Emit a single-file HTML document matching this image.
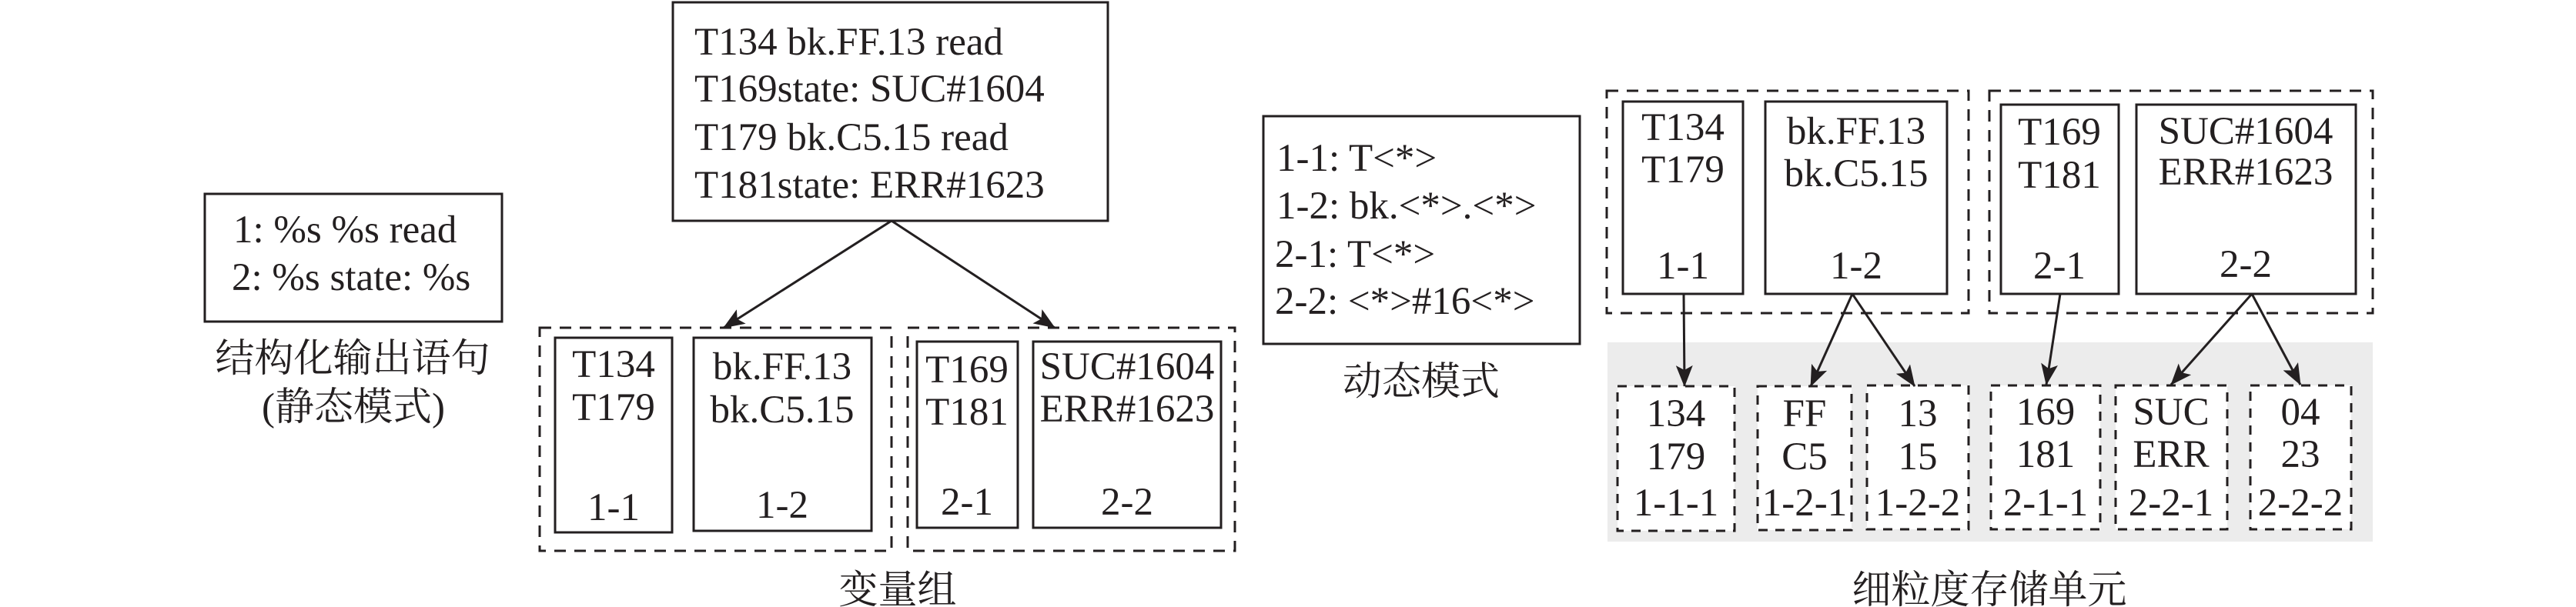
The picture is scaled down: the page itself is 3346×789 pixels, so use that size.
<!DOCTYPE html>
<html>
<head>
<meta charset="utf-8">
<style>
  html,body{margin:0;padding:0;background:#fff;}
  body{width:3346px;height:789px;overflow:hidden;}
  svg{display:block;}
  text{font-family:"Liberation Serif","Noto Serif CJK SC",serif;fill:#231f20;font-size:51px;}
  .cjk{font-family:"Liberation Serif","Noto Serif CJK SC","Noto Sans CJK SC",serif;font-size:51px;}
  .box{fill:#fff;stroke:#231f20;stroke-width:3;}
  .grp{fill:none;stroke:#231f20;stroke-width:3;stroke-dasharray:15 11;}
  .cell{fill:#fff;stroke:#231f20;stroke-width:3;stroke-dasharray:12 10;}
  .arr{stroke:#231f20;stroke-width:3;fill:none;marker-end:url(#ah);}
</style>
</head>
<body>
<svg width="3346" height="789" viewBox="0 0 3346 789" xmlns="http://www.w3.org/2000/svg">
  <defs>
    <marker id="ah" markerUnits="userSpaceOnUse" viewBox="0 0 28 22" markerWidth="28" markerHeight="22" refX="27" refY="11" orient="auto">
      <path d="M28,11 L0,0 L6,11 L0,22 Z" fill="#231f20"/>
    </marker>
  </defs>

  <!-- Left: static template box -->
  <rect class="box" x="266" y="252" width="386" height="166"/>
  <text x="303" y="315">1: %s %s read</text>
  <text x="301" y="377">2: %s state: %s</text>
  <text class="cjk" x="458" y="483" text-anchor="middle">结构化输出语句</text>
  <text class="cjk" x="459" y="546" text-anchor="middle">(静态模式)</text>

  <!-- Top log box -->
  <rect class="box" x="874" y="3" width="565" height="284"/>
  <text x="902" y="71">T134 bk.FF.13 read</text>
  <text x="902" y="132">T169state: SUC#1604</text>
  <text x="902" y="195">T179 bk.C5.15 read</text>
  <text x="902" y="257">T181state: ERR#1623</text>

  <!-- arrows from log box -->
  <line class="arr" x1="1158" y1="287" x2="940" y2="426"/>
  <line class="arr" x1="1158" y1="287" x2="1370" y2="426"/>

  <!-- Variable groups -->
  <rect class="grp" x="701" y="426" width="457" height="290"/>
  <rect class="grp" x="1179" y="426" width="425" height="290"/>

  <rect class="box" x="721" y="439" width="152" height="253"/>
  <text x="797" y="490" text-anchor="middle">T134</text>
  <text x="797" y="546" text-anchor="middle">T179</text>
  <text x="797" y="676" text-anchor="middle">1-1</text>

  <rect class="box" x="901" y="439" width="231" height="251"/>
  <text x="1016" y="493" text-anchor="middle">bk.FF.13</text>
  <text x="1016" y="549" text-anchor="middle">bk.C5.15</text>
  <text x="1016" y="673" text-anchor="middle">1-2</text>

  <rect class="box" x="1191" y="444" width="131" height="242"/>
  <text x="1256" y="497" text-anchor="middle">T169</text>
  <text x="1256" y="552" text-anchor="middle">T181</text>
  <text x="1256" y="669" text-anchor="middle">2-1</text>

  <rect class="box" x="1342" y="444" width="244" height="242"/>
  <text x="1464" y="493" text-anchor="middle">SUC#1604</text>
  <text x="1464" y="548" text-anchor="middle">ERR#1623</text>
  <text x="1464" y="669" text-anchor="middle">2-2</text>

  <text class="cjk" x="1166" y="784" text-anchor="middle">变量组</text>

  <!-- Dynamic template box -->
  <rect class="box" x="1641" y="151" width="411" height="296"/>
  <text x="1658" y="222">1-1: T&lt;*&gt;</text>
  <text x="1658" y="284">1-2: bk.&lt;*&gt;.&lt;*&gt;</text>
  <text x="1656" y="347">2-1: T&lt;*&gt;</text>
  <text x="1656" y="408">2-2: &lt;*&gt;#16&lt;*&gt;</text>
  <text class="cjk" x="1846" y="513" text-anchor="middle">动态模式</text>

  <!-- Gray storage region -->
  <rect x="2088" y="445" width="994" height="259" fill="#ececec"/>

  <!-- Right groups -->
  <rect class="grp" x="2087" y="118" width="470" height="289"/>
  <rect class="grp" x="2584" y="118" width="498" height="289"/>

  <rect class="box" x="2108" y="132" width="156" height="250"/>
  <text x="2186" y="182" text-anchor="middle">T134</text>
  <text x="2186" y="237" text-anchor="middle">T179</text>
  <text x="2186" y="362" text-anchor="middle">1-1</text>

  <rect class="box" x="2293" y="132" width="236" height="250"/>
  <text x="2411" y="187" text-anchor="middle">bk.FF.13</text>
  <text x="2411" y="242" text-anchor="middle">bk.C5.15</text>
  <text x="2411" y="362" text-anchor="middle">1-2</text>

  <rect class="box" x="2599" y="136" width="153" height="246"/>
  <text x="2675" y="188" text-anchor="middle">T169</text>
  <text x="2675" y="244" text-anchor="middle">T181</text>
  <text x="2675" y="362" text-anchor="middle">2-1</text>

  <rect class="box" x="2775" y="136" width="285" height="246"/>
  <text x="2917" y="187" text-anchor="middle">SUC#1604</text>
  <text x="2917" y="240" text-anchor="middle">ERR#1623</text>
  <text x="2917" y="360" text-anchor="middle">2-2</text>

  <!-- Storage cells -->
  <rect class="cell" x="2101" y="502" width="152" height="188"/>
  <text x="2177" y="554" text-anchor="middle">134</text>
  <text x="2177" y="610" text-anchor="middle">179</text>
  <text x="2177" y="670" text-anchor="middle">1-1-1</text>

  <rect class="cell" x="2283" y="502" width="122" height="187"/>
  <text x="2344" y="554" text-anchor="middle">FF</text>
  <text x="2344" y="610" text-anchor="middle">C5</text>
  <text x="2344" y="670" text-anchor="middle">1-2-1</text>

  <rect class="cell" x="2425" y="501" width="132" height="187"/>
  <text x="2491" y="554" text-anchor="middle">13</text>
  <text x="2491" y="610" text-anchor="middle">15</text>
  <text x="2491" y="670" text-anchor="middle">1-2-2</text>

  <rect class="cell" x="2586" y="501" width="142" height="187"/>
  <text x="2657" y="552" text-anchor="middle">169</text>
  <text x="2657" y="607" text-anchor="middle">181</text>
  <text x="2657" y="670" text-anchor="middle">2-1-1</text>

  <rect class="cell" x="2748" y="501" width="145" height="187"/>
  <text x="2820" y="552" text-anchor="middle">SUC</text>
  <text x="2820" y="607" text-anchor="middle">ERR</text>
  <text x="2820" y="670" text-anchor="middle">2-2-1</text>

  <rect class="cell" x="2923" y="501" width="131" height="187"/>
  <text x="2988" y="552" text-anchor="middle">04</text>
  <text x="2988" y="607" text-anchor="middle">23</text>
  <text x="2988" y="670" text-anchor="middle">2-2-2</text>

  <!-- Arrows to storage cells -->
  <line class="arr" x1="2187" y1="382" x2="2188" y2="502"/>
  <line class="arr" x1="2406" y1="382" x2="2352" y2="502"/>
  <line class="arr" x1="2406" y1="382" x2="2487" y2="502"/>
  <line class="arr" x1="2676" y1="382" x2="2658" y2="500"/>
  <line class="arr" x1="2925" y1="382" x2="2820" y2="500"/>
  <line class="arr" x1="2925" y1="382" x2="2988" y2="500"/>

  <text class="cjk" x="2584" y="784" text-anchor="middle">细粒度存储单元</text>
</svg>
</body>
</html>
